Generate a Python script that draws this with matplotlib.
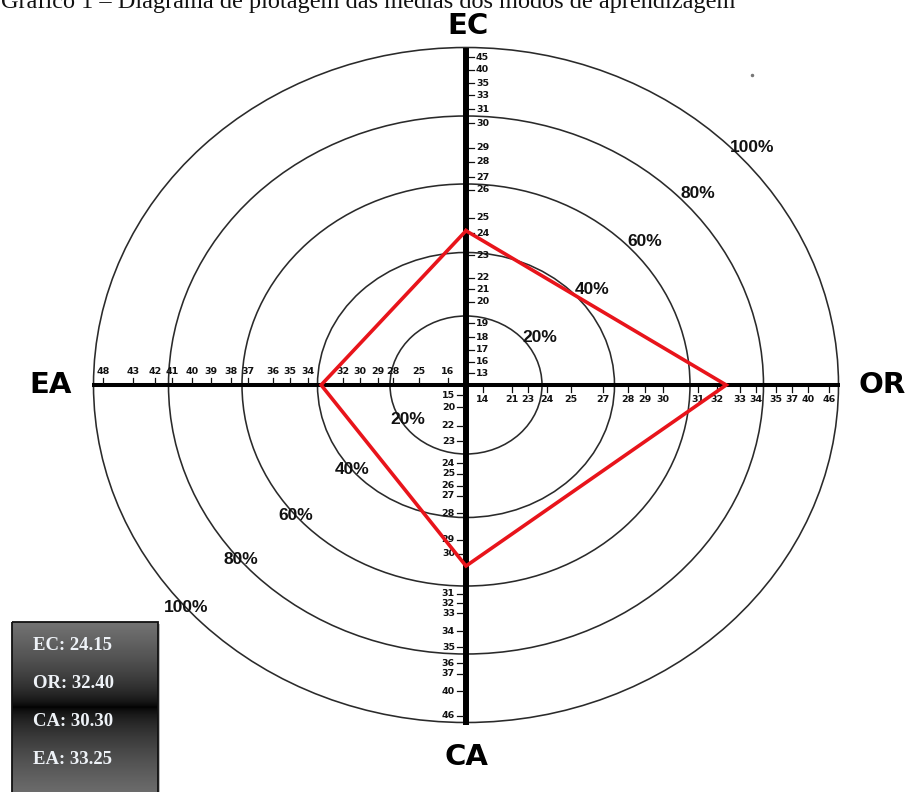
import numpy as np
import matplotlib
matplotlib.use("Agg")
import matplotlib.pyplot as plt
from matplotlib.patches import Ellipse, Rectangle

# ---------------- data ----------------
title = "Gráfico 1 – Diagrama de plotagem das médias dos modos de aprendizagem"
axis_names = ["EC", "OR", "CA", "EA"]
means = [24.15, 32.40, 30.30, 33.25]          # EC, OR, CA, EA
pct_labels = ["20%", "40%", "60%", "80%", "100%"]

ec_ticks = [13, 16, 17, 18, 19, 20, 21, 22, 23, 24, 25, 26, 27, 28, 29, 30, 31, 33, 35, 40, 45]
or_ticks = [14, 21, 23, 24, 25, 27, 28, 29, 30, 31, 32, 33, 34, 35, 37, 40, 46]
ca_ticks = [15, 20, 22, 23, 24, 25, 26, 27, 28, 29, 30, 31, 32, 33, 34, 35, 36, 37, 40, 46]
ea_ticks = [16, 25, 28, 29, 30, 32, 34, 35, 36, 37, 38, 39, 40, 41, 42, 43, 48]

# ---------------- layout (pixel distances from centre) ----------------
cx, cy = 466, 385
ec_dist = [12, 23, 35, 48, 62, 83, 96, 107, 130, 152, 167, 195, 208, 223, 237, 262, 276, 290, 302, 315, 328]
or_dist = [17, 46, 62, 81, 105, 137, 162, 179, 197, 232, 251, 274, 290, 310, 326, 342, 363]
ca_dist = [10, 22, 41, 56, 78, 89, 101, 111, 128, 155, 169, 209, 218, 228, 246, 262, 278, 289, 306, 331]
ea_dist = [18, 47, 73, 88, 106, 123, 158, 176, 193, 218, 235, 255, 274, 294, 311, 333, 363]
ring_hw = [76, 148.5, 224, 297.5, 372.5]
ring_hh = [69, 132.5, 201, 269, 337.5]

W, H = 909, 792
fig = plt.figure(figsize=(W / 100, H / 100), dpi=100)
ax = fig.add_axes([0, 0, 1, 1])
ax.set_xlim(0, W)
ax.set_ylim(H, 0)
ax.axis("off")

# rings
for hw, hh in zip(ring_hw, ring_hh):
    ax.add_patch(Ellipse((cx, cy), 2 * hw, 2 * hh, fill=False, ec="#2a2a2a", lw=1.15, zorder=2))

# main axes
ax.plot([cx, cx], [cy - 337, cy + 340], color="black", lw=4.3, solid_capstyle="butt", zorder=4)
ax.plot([92, 840], [cy, cy], color="black", lw=2.9, solid_capstyle="butt", zorder=4)

tfont = dict(fontsize=6.8, fontweight="bold", family="DejaVu Sans", color="#111111", zorder=5)
# EC (up, labels to the right)
for v, d in zip(ec_ticks, ec_dist):
    y = cy - d
    ax.plot([cx + 3, cx + 8], [y, y], color="#111", lw=0.9, zorder=5)
    ax.text(cx + 10, y, str(v), ha="left", va="center", **tfont)
# CA (down, labels to the left)
for v, d in zip(ca_ticks, ca_dist):
    y = cy + d
    ax.plot([cx - 9, cx - 3], [y, y], color="#111", lw=0.9, zorder=5)
    ax.text(cx - 11, y, str(v), ha="right", va="center", **tfont)
# EA (left, labels above)
for v, d in zip(ea_ticks, ea_dist):
    x = cx - d
    ax.plot([x, x], [cy - 7, cy - 2], color="#111", lw=0.9, zorder=5)
    ax.text(x, cy - 9, str(v), ha="center", va="bottom", **tfont)
# OR (right, labels below)
for v, d in zip(or_ticks, or_dist):
    x = cx + d
    ax.plot([x, x], [cy + 2, cy + 7], color="#111", lw=0.9, zorder=5)
    ax.text(x, cy + 10, str(v), ha="center", va="top", **tfont)

# percentage labels
pfont = dict(fontsize=12.5, fontweight="bold", family="Liberation Sans", color="#111", zorder=5)
ur = [(540, 338), (592, 290), (645, 242), (698, 193), (752, 147)]
ll = [(408, 420), (352, 470), (296, 515), (241, 560), (186, 608)]
for lab, p in zip(pct_labels, ur):
    ax.text(p[0], p[1], lab, ha="center", va="center", **pfont)
for lab, p in zip(pct_labels, ll):
    ax.text(p[0], p[1], lab, ha="center", va="center", **pfont)

# axis names
nfont = dict(fontsize=21, fontweight="heavy", family="DejaVu Sans", color="black", zorder=5)
ax.text(cx + 2, 26, axis_names[0], ha="center", va="center", **nfont)
ax.text(882, cy, axis_names[1], ha="center", va="center", **nfont)
ax.text(cx, 757, axis_names[2], ha="center", va="center", **nfont)
ax.text(51, cy, axis_names[3], ha="center", va="center", **nfont)

# red polygon from the means through the tick scales
ec_y = cy - np.interp(means[0], ec_ticks, ec_dist)
or_x = cx + np.interp(means[1], or_ticks, or_dist)
ca_y = cy + np.interp(means[2], ca_ticks, ca_dist)
ea_x = cx - np.interp(means[3], ea_ticks, ea_dist)
px = [cx, or_x, cx, ea_x, cx]
py = [ec_y, cy, ca_y, cy, ec_y]
ax.plot(px, py, color="#e8141b", lw=2.6, solid_joinstyle="miter", zorder=6)

# small speck
ax.plot([752], [75], marker="o", ms=1.5, color="#777", zorder=3)

# title (cut at top edge, as in the reference)
ax.text(1, 8, title, ha="left", va="baseline", fontsize=17.5, family="Liberation Serif", color="#111", zorder=7)

# legend box with gradient
bx0, bx1, by0, by1 = 12, 158, 622, 795
yy = np.linspace(by0, by1, 300)
mid = 707
g = np.where(yy < mid, 0.45 * ((mid - yy) / (mid - by0)) ** 0.6, 0.43 * ((yy - mid) / (by1 - mid)) ** 0.6)
img = np.repeat(g[:, None], 2, axis=1)
img = np.dstack([img, img, img])
ax.add_patch(Rectangle((bx0 + 2, by0 + 2), bx1 - bx0, by1 - by0, fc="#bbbbbb", ec="none", zorder=7))
ax.imshow(img, extent=[bx0, bx1, by1, by0], aspect="auto", zorder=8, interpolation="bilinear")
ax.add_patch(Rectangle((bx0, by0), bx1 - bx0, by1 - by0, fill=False, ec="#111", lw=1.3, zorder=9))
ax.set_xlim(0, W)
ax.set_ylim(H, 0)
leg_y = [645, 684, 722, 760]
for name, val, y in zip(axis_names, means, leg_y):
    ax.text(33, y, f"{name}: {val:.2f}", ha="left", va="center", fontsize=13.5, fontweight="bold",
            family="Liberation Serif", color="#eef2f7", zorder=10)

fig.savefig("out.png", dpi=100)
